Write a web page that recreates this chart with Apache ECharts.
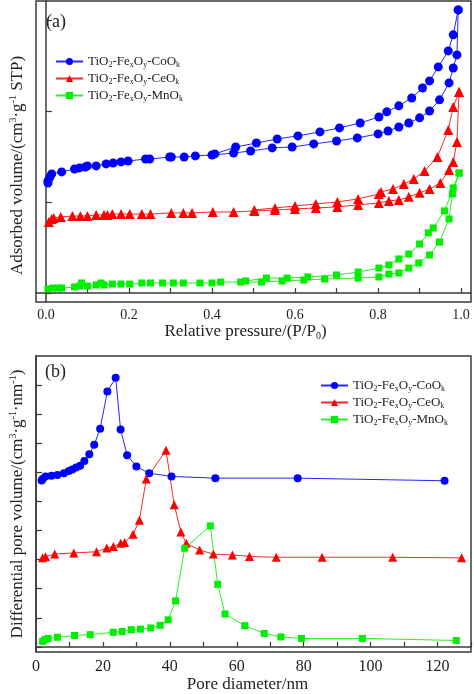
<!DOCTYPE html>
<html><head><meta charset="utf-8">
<script src="https://cdn.jsdelivr.net/npm/echarts@6/dist/echarts.min.js"></script>
<style>html,body{margin:0;padding:0;background:#fff}#c{width:474px;height:694px}</style>
</head><body><div id="c"></div>
<script>
// ---------- Panel (a): N2 adsorption-desorption isotherms ----------
const coAdsP = [0.005,0.005,0.010,0.014,0.038,0.069,0.081,0.095,0.100,0.121,0.145,0.162,0.181,0.198,0.240,0.250,0.298,0.302,0.333,0.360,0.400,0.452,0.493,0.545,0.593,0.645,0.700,0.750,0.800,0.824,0.850,0.874,0.900,0.924,0.948,0.971,0.981,0.990,0.993];
const coAdsV = [60.4,61.5,63.7,65.4,66.5,68.1,68.7,69.2,69.8,69.8,70.9,71.4,72.0,72.5,73.6,73.6,74.7,74.7,74.7,75.3,75.8,76.9,78.0,79.7,80.2,81.9,83.5,85.2,87.4,89.0,91.2,93.4,96.2,100.0,106.1,115.4,123.6,130.8,155.5];
const coDesP = [0.993,0.981,0.969,0.945,0.924,0.907,0.881,0.850,0.821,0.802,0.757,0.707,0.660,0.607,0.557,0.507,0.457,0.407];
const coDesV = [155.5,141.8,133.0,124.2,116.5,112.6,107.1,102.8,99.5,96.7,93.4,90.7,88.5,86.3,84.6,82.4,80.2,76.4];

const ceAdsP = [0.007,0.014,0.019,0.036,0.064,0.083,0.100,0.121,0.140,0.148,0.160,0.181,0.202,0.231,0.252,0.302,0.331,0.352,0.402,0.452,0.502,0.552,0.600,0.650,0.702,0.752,0.802,0.826,0.850,0.874,0.900,0.924,0.950,0.971,0.981,0.990,0.995];
const ceAdsV = [39.0,40.7,41.2,41.8,42.3,42.3,42.3,42.9,42.9,42.9,43.4,43.4,43.4,43.4,43.4,44.0,44.0,44.0,44.5,44.5,45.1,45.6,46.2,46.7,47.3,48.4,49.5,50.6,51.1,52.8,55.0,57.1,60.4,67.6,72.0,83.0,110.4];
const ceDesP = [0.995,0.981,0.969,0.943,0.912,0.886,0.862,0.836,0.807,0.802,0.752,0.702,0.650,0.600,0.552,0.502];
const ceDesV = [110.4,102.2,89.6,74.7,67.0,62.6,59.9,57.1,55.5,54.4,51.7,50.0,48.9,47.8,46.7,45.6];

const mnAdsP = [0.005,0.017,0.029,0.038,0.069,0.081,0.086,0.100,0.121,0.133,0.140,0.160,0.181,0.202,0.231,0.252,0.281,0.307,0.331,0.371,0.400,0.421,0.469,0.519,0.569,0.621,0.671,0.752,0.802,0.826,0.850,0.874,0.898,0.924,0.948,0.971,0.979,0.995];
const mnAdsV = [2.2,2.7,2.7,2.7,3.3,3.8,5.5,3.8,4.4,5.5,4.4,4.9,4.9,4.9,5.5,5.5,5.5,5.5,5.5,5.5,5.5,6.0,6.0,6.0,6.6,7.1,7.7,8.2,8.8,10.4,11.0,13.7,16.5,20.9,28.0,40.7,54.4,65.9];
const mnDesP = [0.995,0.981,0.960,0.933,0.921,0.900,0.874,0.850,0.826,0.802,0.752,0.700,0.631,0.581,0.531,0.481];
const mnDesV = [65.9,57.7,45.1,35.7,33.0,26.9,21.4,18.7,15.4,13.7,11.5,9.9,8.8,8.2,8.2,6.6];

// ---------- Panel (b): pore size distribution ----------
const coPoreD = [1.68,1.98,2.86,4.63,6.40,8.35,9.82,10.83,12.0,13.19,14.45,15.93,17.4,19.17,21.33,23.81,25.28,27.23,30.0,33.84,40.5,53.6,78.2,122.1];
const coPoreV = [5.72,5.77,5.86,5.88,5.91,5.97,6.05,6.10,6.17,6.23,6.39,6.62,6.95,7.50,8.78,9.25,7.47,6.59,6.20,5.97,5.86,5.80,5.80,5.71];
const cePoreD = [1.98,2.86,5.60,11.3,18.08,21.15,23.1,25.3,26.5,29.0,30.9,32.95,38.85,41.3,43.3,44.9,48.9,53.0,58.7,63.8,71.8,85.5,106.6,127.2];
const cePoreV = [3.06,3.10,3.19,3.23,3.27,3.40,3.45,3.56,3.59,3.87,4.35,5.77,6.76,4.89,3.95,3.56,3.33,3.19,3.16,3.11,3.08,3.08,3.08,3.06];
const mnPoreD = [1.98,2.65,3.63,6.40,11.5,16.2,23.1,25.75,28.5,31.2,34.3,37.1,39.5,41.7,44.45,52.1,54.3,56.5,62.4,68.2,73.2,79.35,97.55,125.6];
const mnPoreV = [0.19,0.25,0.29,0.33,0.39,0.42,0.50,0.53,0.59,0.61,0.65,0.74,0.93,1.58,3.39,4.16,2.15,1.13,0.73,0.46,0.34,0.29,0.29,0.22];

// ---------- Axis ticks / labels ----------
const aTicksX = [0,0.1,0.2,0.3,0.4,0.5,0.6,0.7,0.8,0.9,1.0];
const aLabelsX = [0,0.2,0.4,0.6,0.8,1.0];
const aTicksY = [0,50,100,150];
const bTicksY = [0,1,2,3,4,5,6,7,8,9];

const seriesNames = ['CoO','CeO','MnO'];
const legendText = {
  CoO: '{n|TiO}{s|2}{n|-Fe}{s|x}{n|O}{s|y}{n|-CoO}{s|k}',
  CeO: '{n|TiO}{s|2}{n|-Fe}{s|x}{n|O}{s|y}{n|-CeO}{s|k}',
  MnO: '{n|TiO}{s|2}{n|-Fe}{s|x}{n|O}{s|y}{n|-MnO}{s|k}'
};

const F = 'Liberation Serif';
const AX = '#3a3a3a';
const BLUE = '#0000ff', RED = '#ff0000', GREEN = '#00ee00';
const zip = (a, b) => a.map((v, i) => [v, b[i]]);

const legRich = {
  n: {fontFamily: F, fontSize: 13, color: '#222', lineHeight: 15},
  s: {fontFamily: F, fontSize: 8, color: '#222', lineHeight: 6, verticalAlign: 'bottom'}
};
const nameRich = (fs) => ({
  n: {fontFamily: F, fontSize: fs, color: '#222', lineHeight: 20},
  sub: {fontFamily: F, fontSize: 10, color: '#222', lineHeight: 6, verticalAlign: 'bottom'},
  sup: {fontFamily: F, fontSize: 10, color: '#222', lineHeight: 6, verticalAlign: 'top'}
});

function mk(name, xi, data, color, symbol, size) {
  return {
    name: name, type: 'line', xAxisIndex: xi, yAxisIndex: xi, data: data,
    symbol: symbol, symbolSize: size, showSymbol: true, clip: false,
    itemStyle: {color: color},
    lineStyle: {color: color, width: 1, opacity: 0.85},
    emphasis: {disabled: true}, animation: false
  };
}

const axisLineStyle = {lineStyle: {color: AX, width: 1.5}};

const option = {
  animation: false,
  backgroundColor: '#fff',
  title: [
    {text: '(a)', left: 46, top: 13, padding: 0, textStyle: {fontFamily: F, fontSize: 18, fontWeight: 'normal', color: '#222'}},
    {text: '(b)', left: 45, top: 363, padding: 0, textStyle: {fontFamily: F, fontSize: 18, fontWeight: 'normal', color: '#222'}}
  ],
  legend: [
    {data: seriesNames, left: 50, top: 50, orient: 'vertical', itemWidth: 27, itemHeight: 9, itemGap: 3,
     formatter: n => legendText[n], textStyle: {rich: legRich}, selectedMode: false},
    {data: seriesNames, left: 315, top: 374, orient: 'vertical', itemWidth: 27, itemHeight: 9, itemGap: 3,
     formatter: n => legendText[n], textStyle: {rich: legRich}, selectedMode: false}
  ],
  grid: [
    {left: 31, top: 1, width: 440, height: 301, show: true, borderColor: AX, borderWidth: 1.5},
    {left: 31, top: 356, width: 441, height: 300, show: true, borderColor: AX, borderWidth: 1.5}
  ],
  xAxis: [
    {gridIndex: 0, type: 'value', min: -0.0238, max: 1.0238,
     axisLine: axisLineStyle,
     axisTick: {inside: true, length: 5, customValues: aTicksX, lineStyle: {color: AX, width: 1.2}},
     axisLabel: {customValues: aLabelsX, formatter: v => v.toFixed(1), fontFamily: F, fontSize: 14, color: '#222', margin: 6},
     splitLine: {show: false},
     name: '{n|Relative pressure/(P/P}{sub|0}{n|)}', nameLocation: 'middle', nameGap: 17,
     nameTextStyle: {rich: nameRich(17), padding: [0, 16, 0, 0]}},
    {gridIndex: 1, type: 'value', min: 0, max: 130, interval: 10,
     axisLine: axisLineStyle,
     axisTick: {inside: true, length: 5, lineStyle: {color: AX, width: 1.2}},
     axisLabel: {formatter: v => (v % 20 === 0 && v <= 120) ? String(v) : '', fontFamily: F, fontSize: 16, color: '#222', margin: 7},
     splitLine: {show: false},
     name: '{n|Pore diameter/nm}', nameLocation: 'middle', nameGap: 20,
     nameTextStyle: {rich: nameRich(17), padding: [0, 12, 0, 0]}}
  ],
  yAxis: [
    {gridIndex: 0, type: 'value', min: -4.95, max: 160.4,
     axisLine: axisLineStyle,
     axisTick: {inside: true, length: 6, customValues: aTicksY, lineStyle: {color: AX, width: 1.2}},
     axisLabel: {show: false}, splitLine: {show: false},
     name: '{n|Adsorbed volume/(cm}{sup|3}{n|·g}{sup|-1}{n| STP)}', nameLocation: 'middle', nameGap: 8,
     nameTextStyle: {rich: nameRich(17), padding: [0, 28, 0, 0]}},
    {gridIndex: 1, type: 'value', min: -0.18, max: 10.0,
     axisLine: axisLineStyle,
     axisTick: {inside: true, length: 6, customValues: bTicksY, lineStyle: {color: AX, width: 1.2}},
     axisLabel: {show: false}, splitLine: {show: false},
     name: '{n|Differential pore volume/(cm}{sup|3}{n|·g}{sup|-1}{n|·nm}{sup|-1}{n|)}', nameLocation: 'middle', nameGap: 8,
     nameTextStyle: {rich: nameRich(17)}}
  ],
  series: [
    mk('CoO', 0, zip(coAdsP, coAdsV), BLUE, 'circle', 9),
    mk('CoO', 0, zip(coDesP, coDesV), BLUE, 'circle', 9),
    mk('CeO', 0, zip(ceAdsP, ceAdsV), RED, 'triangle', 10),
    mk('CeO', 0, zip(ceDesP, ceDesV), RED, 'triangle', 10),
    mk('MnO', 0, zip(mnAdsP, mnAdsV), GREEN, 'rect', 7),
    mk('MnO', 0, zip(mnDesP, mnDesV), GREEN, 'rect', 7),
    mk('CoO', 1, zip(coPoreD, coPoreV), BLUE, 'circle', 8),
    mk('CeO', 1, zip(cePoreD, cePoreV), RED, 'triangle', 9),
    mk('MnO', 1, zip(mnPoreD, mnPoreV), GREEN, 'rect', 7)
  ]
};

const chart = echarts.init(document.getElementById('c'), null, {renderer: 'canvas'});
chart.setOption(option);
</script>
</body></html>
